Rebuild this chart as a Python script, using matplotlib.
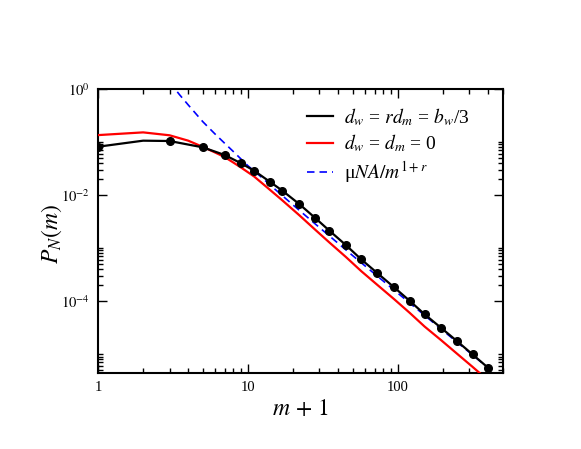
import numpy as np
import matplotlib
matplotlib.use("Agg")
import matplotlib.pyplot as plt
from matplotlib.ticker import FixedLocator, FixedFormatter, NullFormatter

plt.rcParams['font.family'] = ['Liberation Serif', 'DejaVu Serif']
plt.rcParams['mathtext.fontset'] = 'stix'

# black series: d_w = r d_m = b_w/3
black_x = [1, 2, 3, 5, 7, 9, 11, 14, 17, 22, 28, 35, 45, 57, 73, 94, 120, 151, 194, 248, 315, 400]
black_y = [0.0815, 0.106, 0.1045, 0.0794, 0.0569, 0.0397, 0.0288, 0.0178, 0.01205, 0.00676,
           0.00373, 0.00212, 0.00114, 6.12e-4, 3.37e-4, 1.84e-4, 1.01e-4, 5.62e-5, 3.14e-5,
           1.76e-5, 9.87e-6, 5.52e-6]

# red series: d_w = d_m = 0
red_x = [1, 2, 3, 4, 5, 6, 7, 8, 9, 11, 14, 17, 22, 28, 35, 45, 57, 73, 94, 120, 151, 194, 248, 315, 400]
red_y = [0.135, 0.152, 0.134, 0.106, 0.081, 0.064, 0.052, 0.041, 0.033, 0.0224, 0.0126, 0.0079,
         0.00417, 0.00224, 0.00127, 6.8e-4, 3.67e-4, 2.02e-4, 1.1e-4, 6.0e-5, 3.3e-5, 1.84e-5,
         1.02e-5, 5.75e-6, 3.2e-6]

# blue dashed: mu N A / m^(1+r)
blue_x = [3, 3.5, 4, 5, 6, 7, 8, 10, 12, 15, 20, 30, 50, 100, 200, 400]
blue_y = [1.35, 0.78, 0.50, 0.242, 0.144, 0.0946, 0.066, 0.0357, 0.0231, 0.0132, 0.0065,
          0.00244, 7.2e-4, 1.41e-4, 2.78e-5, 5.52e-6]

labels = [r'$d_w$ = $rd_m$ = $b_w$/3', r'$d_w$ = $d_m$ = 0', r'μ$NA/m^{1+r}$']

fig = plt.figure(figsize=(5.81, 4.49), dpi=100)
ax = fig.add_axes([98/581, 1-373/449, (503-98)/581, (373-89)/449])

marker_idx = [i for i, x in enumerate(black_x) if x != 2]
ax.plot(black_x, black_y, color='black', lw=1.6, label=labels[0], zorder=4)
ax.plot(black_x, black_y, ls='none', color='black', marker='o', ms=5.5, markevery=marker_idx,
        zorder=5)
ax.plot(red_x, red_y, color='red', lw=1.6, label=labels[1], zorder=3)
ax.plot(blue_x, blue_y, color='#0000ff', lw=1.2, ls=(0, (4.5, 3)), label=labels[2], zorder=3)

ax.set_xscale('log')
ax.set_yscale('log')
ax.set_xlim(1, 503)
ax.set_ylim(4.4e-6, 1)

ax.xaxis.set_major_locator(FixedLocator([1, 10, 100]))
ax.xaxis.set_major_formatter(FixedFormatter(['1', '10', '100']))
ax.xaxis.set_minor_locator(FixedLocator([k * 10**e for e in range(0, 3) for k in range(2, 10)]))
ax.xaxis.set_minor_formatter(NullFormatter())

ax.yaxis.set_major_locator(FixedLocator([1e-4, 1e-2, 1]))
ax.yaxis.set_major_formatter(FixedFormatter([r'$10^{-4}$', r'$10^{-2}$', r'$10^{0}$']))
ax.yaxis.set_minor_locator(FixedLocator([k * 10.0**e for e in (-6, -4, -2) for k in range(2, 11)]))
ax.yaxis.set_minor_formatter(NullFormatter())

ax.tick_params(which='both', direction='in', top=True, right=True, width=1.0, labelsize=10.5)
ax.tick_params(which='major', length=6.5, pad=6)
ax.tick_params(which='minor', length=3.6)
for s in ax.spines.values():
    s.set_linewidth(1.5)

ax.set_xlabel(r'$m\,+\,1$', fontsize=17)
ax.xaxis.set_label_coords(0.5, -0.09)
ax.set_ylabel(r'$P_N(m)$', fontsize=17)
ax.yaxis.set_label_coords(-0.085, 0.49)

leg = ax.legend(loc='upper left', bbox_to_anchor=(307/581, 1-106/449), bbox_transform=fig.transFigure,
                frameon=False, fontsize=14, handlelength=1.35, handletextpad=0.55,
                labelspacing=0.25, borderpad=0, borderaxespad=0)

fig.savefig('out.png', dpi=100)
